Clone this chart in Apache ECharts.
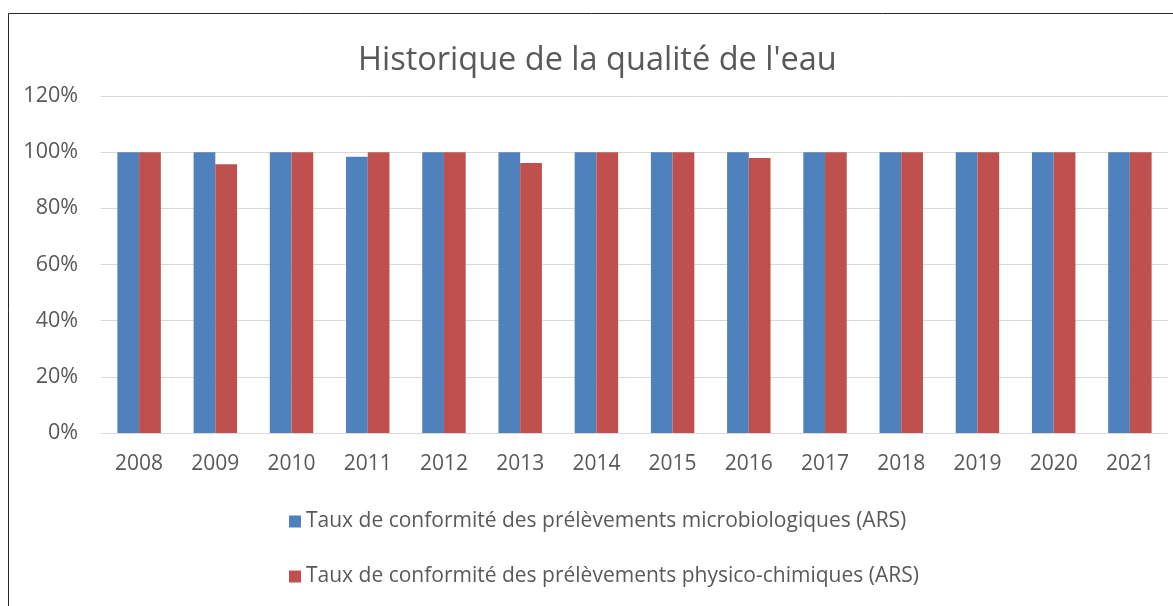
<!DOCTYPE html>
<html>
<head>
<meta charset="utf-8">
<script src="https://cdn.jsdelivr.net/npm/echarts@6/dist/echarts.min.js"></script>
<style>
  html, body { margin: 0; padding: 0; background: #fff; }
  #chart { width: 1173px; height: 606px; }
</style>
</head>
<body>
<div id="chart"></div>
<script>
// années
const years = ['2008', '2009', '2010', '2011', '2012', '2013', '2014', '2015', '2016', '2017', '2018', '2019', '2020', '2021']
// taux de conformité (%)
const microbio = [100, 100, 100, 98.4, 100, 100, 100, 100, 100, 100, 100, 100, 100, 100]
const physico = [100, 95.7, 100, 100, 100, 96.1, 100, 100, 97.9, 100, 100, 100, 100, 100]
const seriesNames = [
  'Taux de conformité des prélèvements microbiologiques (ARS)',
  'Taux de conformité des prélèvements physico-chimiques (ARS)'
]
const yTicks = [0, 20, 40, 60, 80, 100, 120]

const font = 'Open Sans, Liberation Sans, sans-serif'
const txt = '#595959'

let mychart = echarts.init(document.getElementById('chart'))
mychart.setOption({
  animation: false,
  title: {
    text: "Historique de la qualité de l'eau",
    left: 353,
    top: 39,
    textStyle: { color: txt, fontWeight: 'normal', fontSize: 32.5, fontFamily: font }
  },
  color: ['#4f81bd', '#c0504d'],
  legend: {
    orient: 'vertical',
    left: 284,
    top: 506,
    itemWidth: 12,
    itemHeight: 12,
    itemGap: 34,
    icon: 'rect',
    textStyle: { color: txt, fontSize: 21, fontFamily: font },
    data: seriesNames
  },
  grid: { left: 101, right: 5, top: 96, bottom: 173 },
  xAxis: {
    type: 'category',
    data: years,
    axisLine: { lineStyle: { color: '#d9d9d9', width: 1 } },
    axisTick: { show: false },
    axisLabel: { color: txt, fontSize: 21, fontFamily: font, margin: 21 }
  },
  yAxis: {
    type: 'value',
    min: yTicks[0],
    max: yTicks[yTicks.length - 1],
    interval: 20,
    axisLine: { show: false },
    axisTick: { show: false },
    splitLine: { lineStyle: { color: '#d9d9d9', width: 1 } },
    axisLabel: { color: txt, fontSize: 21.5, fontFamily: font, margin: 23, formatter: '{value}%' }
  },
  graphic: [{
    type: 'rect',
    shape: { x: 8.5, y: 13.5, width: 1300, height: 800 },
    style: { fill: 'none', stroke: '#262626', lineWidth: 1 },
    silent: true
  }],
  series: [
    { name: seriesNames[0], type: 'bar', data: microbio, barGap: '0%', barCategoryGap: '43%' },
    { name: seriesNames[1], type: 'bar', data: physico, barGap: '0%', barCategoryGap: '43%' }
  ]
})
</script>
</body>
</html>
